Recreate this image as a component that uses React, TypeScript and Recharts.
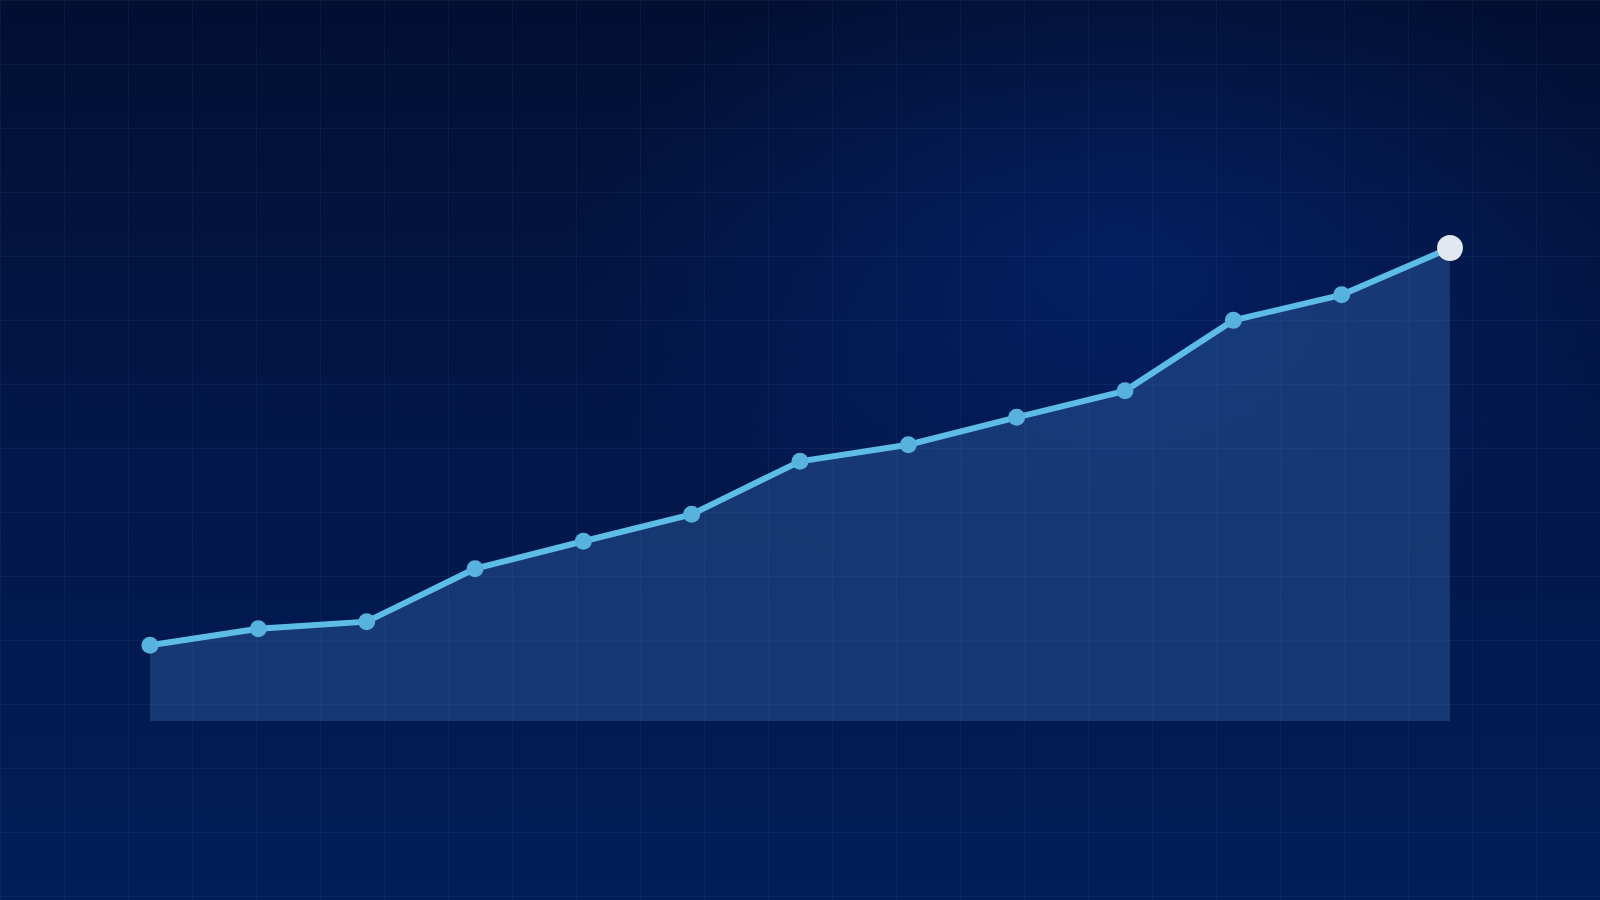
import React from "react";
import { AreaChart, Area, XAxis, YAxis } from "recharts";

const periods = ["P1", "P2", "P3", "P4", "P5", "P6", "P7", "P8", "P9", "P10", "P11", "P12", "P13"];
const values = [16, 19.5, 21, 32.2, 38, 43.7, 54.9, 58.4, 64.2, 69.8, 84.7, 90.1, 100];

const data = periods.map((p, i) => ({ period: p, value: values[i] }));

const LINE = "#5dbde6";
const DOT = "#58b2de";

const renderDot = (props: any) => {
    const { cx, cy, index } = props;
    if (cx == null || cy == null) return <g key={`d-${index}`} />;
    const last = index === values.length - 1;
    return (
        <circle
            key={`d-${index}`}
            cx={cx}
            cy={cy}
            r={last ? 13 : 8.5}
            fill={last ? "#e3e7ef" : DOT}
            stroke="none"
        />
    );
};

export default function App() {
    const grid = "rgba(120,150,220,0.08)";
    return (
        <div
            style={{
                position: "fixed",
                left: 0,
                top: 0,
                width: 1600,
                height: 900,
                background: [
                    `linear-gradient(${grid} 1px, transparent 1px)`,
                    `linear-gradient(90deg, ${grid} 1px, transparent 1px)`,
                    "radial-gradient(ellipse 560px 340px at 70% 30%, rgba(6,36,110,0.7), rgba(6,36,110,0) 100%)",
                    "linear-gradient(180deg, #010f31 0%, #02174a 50%, #021d57 100%)",
                ].join(", "),
                backgroundSize: "64px 64px, 64px 64px, 100% 100%, 100% 100%",
            }}
        >
            <AreaChart
                width={1600}
                height={900}
                data={data}
                margin={{ top: 248, right: 150, bottom: 179, left: 150 }}
            >
                <XAxis dataKey="period" hide />
                <YAxis domain={[0, 100]} hide />
                <Area
                    type="linear"
                    dataKey="value"
                    stroke={LINE}
                    strokeWidth={6}
                    fill="#2f5fa0"
                    fillOpacity={0.45}
                    dot={renderDot}
                    activeDot={false}
                    isAnimationActive={false}
                />
            </AreaChart>
        </div>
    );
}
